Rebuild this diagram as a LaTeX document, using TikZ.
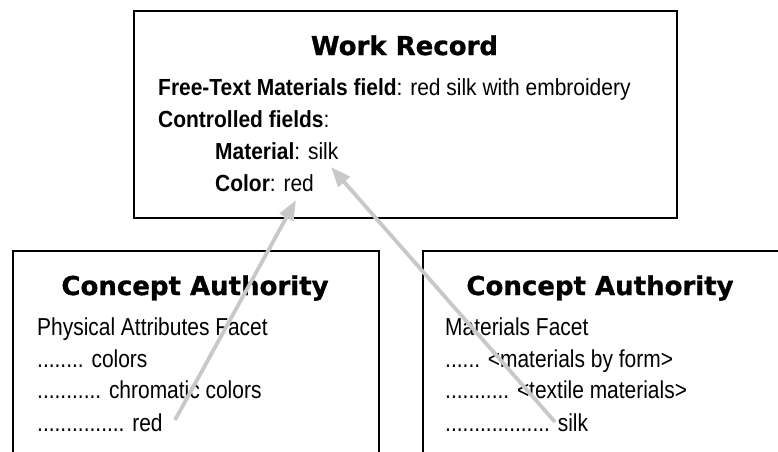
\documentclass[tikz,border=0pt]{standalone}
\usepackage{fontspec}
\setmainfont{Liberation Sans}
\newfontfamily\topfont[FakeStretch=0.9]{Liberation Sans}
\newfontfamily\lowfont[FakeStretch=0.855]{Liberation Sans}
\newfontfamily\titlefont[FakeBold=1]{DejaVu Sans Bold}
\usetikzlibrary{arrows.meta}
\definecolor{arrgray}{HTML}{C8C8C8}
\tikzset{
  box/.style={draw=black, line width=1.8pt, inner sep=0pt, anchor=north west},
  ttl/.style={font=\titlefont\fontsize{26}{30}\selectfont, anchor=base, inner sep=0pt},
  toptxt/.style={font=\topfont\fontsize{23.3}{27}\selectfont, anchor=base west, inner sep=0pt},
  lowtxt/.style={font=\lowfont\fontsize{24.5}{28}\selectfont, anchor=base west, inner sep=0pt},
  conn/.style={draw=arrgray, line width=3.8pt, -{Triangle[length=20pt,width=15pt]}}
}
\begin{document}
\begin{tikzpicture}[x=1pt,y=-1pt]
\useasboundingbox (0,0) rectangle (778,451);
\clip (0,0) rectangle (778,451);
% boxes
\node[box, minimum width=543pt, minimum height=207pt] (work) at (133,10) {};
\node[box, minimum width=366pt, minimum height=230pt] (caL) at (12,250) {};
\node[box, minimum width=380pt, minimum height=230pt] (caR) at (422,250) {};
% top box text
\node[ttl] (workT) at (404.5,55) {Work Record};
\node[toptxt] (free) at (158,95.5) {\textbf{Free-Text Materials field}: red silk with embroidery};
\node[toptxt] (ctrl) at (158,127) {\textbf{Controlled fields}:};
\node[toptxt] (mat) at (215,159) {\textbf{Material}: silk};
\node[toptxt] (col) at (215,191) {\textbf{Color}: red};
% left box text
\node[ttl] (caLT) at (195,295) {Concept Authority};
\node[lowtxt] (physL) at (37,335) {Physical Attributes Facet};
\node[lowtxt] (colorsL) at (37,367) {........ colors};
\node[lowtxt] (chromL) at (37,398) {........... chromatic colors};
\node[lowtxt] (redL) at (37,431) {............... red};
% right box text
\node[ttl] (caRT) at (600,295) {Concept Authority};
\node[lowtxt] (matR) at (445,335) {Materials Facet};
\node[lowtxt] (formR) at (445,367) {...... <materials by form>};
\node[lowtxt] (textR) at (445,398) {........... <textile materials>};
\node[lowtxt] (silkR) at (445,431) {.................. silk};
% connectors
\coordinate (a1s) at (175,420);
\coordinate (a1e) at (296,200);
\coordinate (a2s) at (555,422);
\coordinate (a2e) at (331,167);
\draw[conn] (a1s) -- (a1e);
\draw[conn] (a2s) -- (a2e);
\end{tikzpicture}
\end{document}
